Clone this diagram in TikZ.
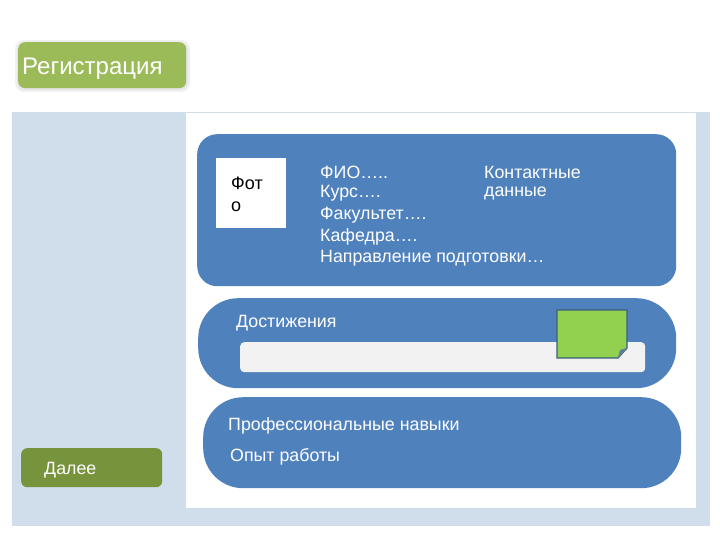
\documentclass[tikz,border=0pt]{standalone}
\usepackage{fontspec}
\setmainfont{Liberation Sans}
\definecolor{panelblue}{HTML}{D0DEEC}
\definecolor{boxblue}{HTML}{4F81BD}
\definecolor{regGreen}{HTML}{9BBB59}
\definecolor{nextGreen}{HTML}{77933C}
\definecolor{noteGreen}{HTML}{92D050}
\definecolor{noteEdge}{HTML}{3A5E7E}
\definecolor{barGray}{HTML}{F2F2F2}
\tikzset{
  bluebox/.style={fill=boxblue, draw=none},
  wtext/.style={text=white, anchor=west, inner sep=0pt, font=\fontsize{17.8}{20}\selectfont},
  btn/.style={draw=none, rounded corners=6pt, text=white},
}
\begin{document}
\begin{tikzpicture}[x=1pt,y=-1pt]
\useasboundingbox (0,0) rectangle (720,540);
\fill[white] (0,0) rectangle (720,540);
% panel
\fill[panelblue] (12,112) rectangle (710,526);
\fill[white] (186,113) rectangle (696,508);
% register button (soft shadow)
\fill[black!6, rounded corners=9pt] (15,40) rectangle (190,92);
\fill[black!10, rounded corners=8pt] (17,42) rectangle (188,90);
\node[btn, fill=regGreen, minimum width=168pt, minimum height=46pt, anchor=north west, rounded corners=7pt] (reg) at (18,42) {};
\node[text=white, anchor=west, inner sep=0pt, font=\fontsize{24}{26}\selectfont] (regt) at (22,68.5) {Регистрация};
% top box
\node[bluebox, rounded corners=20pt, minimum width=479pt, minimum height=152pt, anchor=north west] (top) at (197,134) {};
\node[fill=white, minimum width=70pt, minimum height=70pt, anchor=north west] (photo) at (216,158) {};
\node[anchor=north west, inner sep=0pt, align=left, font=\fontsize{18}{22}\selectfont] (phototext) at (231,177) {Фот\\о};
\node[wtext] (fio) at (320,172) {ФИО…..};
\node[wtext] (kurs) at (320,193) {Курс….};
\node[wtext] (fak) at (320,215) {Факультет….};
\node[wtext] (kaf) at (320,236.5) {Кафедра….};
\node[wtext] (napr) at (320,258.5) {Направление подготовки…};
\node[wtext] (kont) at (484,172) {Контактные};
\node[wtext] (dan) at (484,193) {данные};
% achievements box
\node[bluebox, rounded corners=40pt, minimum width=478pt, minimum height=90pt, anchor=north west] (ach) at (198,298) {};
\node[wtext] (acht) at (236,323) {Достижения};
\node[fill=barGray, rounded corners=4pt, minimum width=405pt, minimum height=30pt, anchor=north west] (bar) at (240,342) {};
\draw[fill=noteGreen, draw=noteEdge, line width=1.3pt] (557,310) -- (627,310) -- (627,348) -- (618,358) -- (557,358) -- cycle;
\fill[noteEdge!80] (618,358) -- (620,350) -- (627,348) -- cycle;
% skills box
\node[bluebox, rounded corners=40pt, minimum width=478pt, minimum height=91pt, anchor=north west] (skills) at (203,397) {};
\node[wtext] (prof) at (228,426) {Профессиональные навыки};
\node[wtext] (opyt) at (230,457) {Опыт работы};
% next button
\node[btn, fill=nextGreen, minimum width=141pt, minimum height=39pt, anchor=north west] (next) at (21,448) {};
\node[text=white, anchor=west, inner sep=0pt, font=\fontsize{17.8}{20}\selectfont] (nextt) at (44,470) {Далее};
\end{tikzpicture}
\end{document}
